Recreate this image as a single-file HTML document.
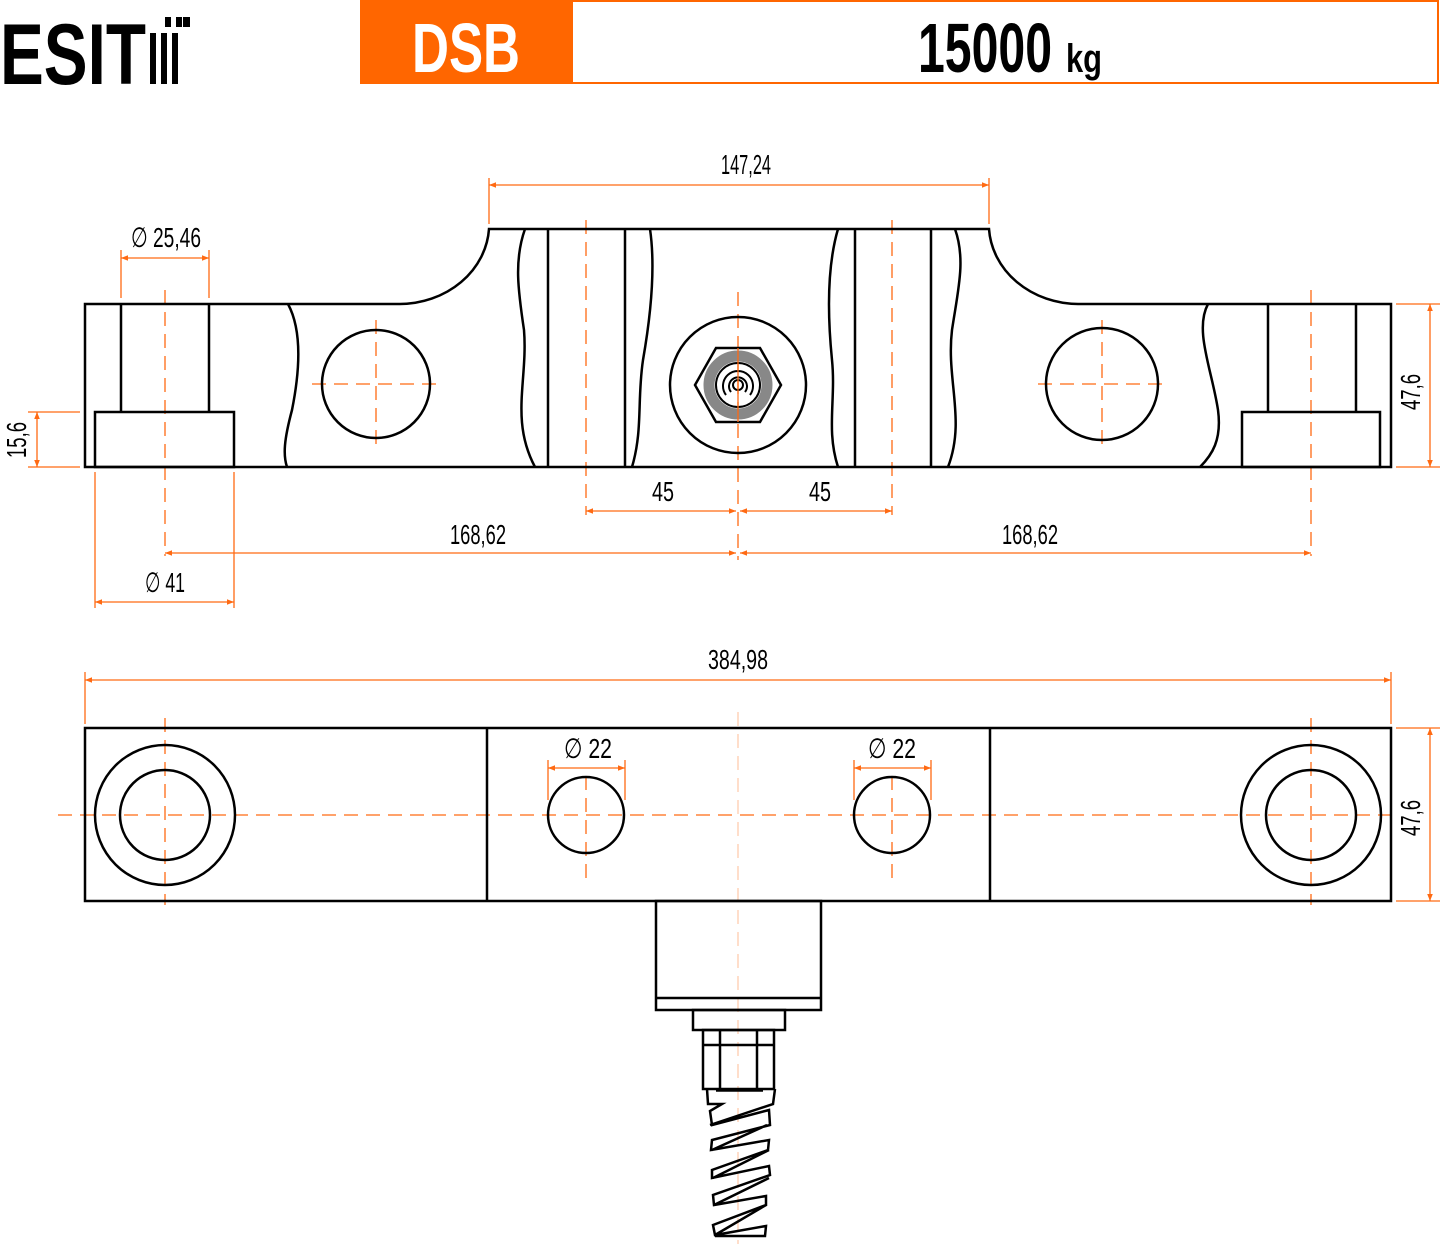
<!DOCTYPE html>
<html><head><meta charset="utf-8"><style>
html,body{margin:0;padding:0;background:#fff;}
svg{display:block}
text{font-family:"Liberation Sans Narrow","Liberation Sans",sans-serif;}
</style></head><body>
<svg width="1440" height="1244" viewBox="0 0 1440 1244" xmlns="http://www.w3.org/2000/svg">
<defs>
<marker id="a" viewBox="0 0 10 10" refX="10" refY="5" markerWidth="16" markerHeight="7" orient="auto-start-reverse" markerUnits="userSpaceOnUse"><path d="M0,1 L10,5 L0,9 z" fill="#ff6a13"/></marker>
</defs>
<!-- Header -->
<g fill="#000">
<text x="0" y="84" font-size="86" font-weight="bold" font-family="Liberation Sans" textLength="146" lengthAdjust="spacingAndGlyphs">ESIT</text>
<rect x="150" y="33" width="6" height="51"/><rect x="161" y="33" width="6" height="51"/><rect x="172" y="33" width="6" height="51"/>
<rect x="165" y="17" width="6" height="10"/><rect x="176" y="17" width="6" height="10"/><rect x="183" y="17" width="7" height="10"/>
</g>
<rect x="360" y="0" width="212" height="84" fill="#ff6600"/>
<text x="466" y="72" font-size="70" font-weight="bold" fill="#fff" text-anchor="middle" textLength="108" lengthAdjust="spacingAndGlyphs">DSB</text>
<rect x="572" y="1" width="866" height="82" fill="none" stroke="#ff6600" stroke-width="2"/>
<text x="918" y="72" font-size="70" font-weight="bold" textLength="134" lengthAdjust="spacingAndGlyphs">15000</text>
<text x="1066" y="72" font-size="40" font-weight="bold" textLength="36" lengthAdjust="spacingAndGlyphs">kg</text>

<!-- centre lines top view -->
<g stroke="#ff6a13" stroke-width="1.3" stroke-dasharray="14,8" fill="none">
<line x1="738" y1="292" x2="738" y2="560"/>
<line x1="586" y1="220" x2="586" y2="515"/>
<line x1="892" y1="220" x2="892" y2="515"/>
<line x1="165" y1="290" x2="165" y2="556"/>
<line x1="1311" y1="290" x2="1311" y2="556"/>
<line x1="312" y1="384" x2="440" y2="384"/><line x1="376" y1="320" x2="376" y2="448"/>
<line x1="1038" y1="384" x2="1166" y2="384"/><line x1="1102" y1="320" x2="1102" y2="448"/>
</g>
<!-- top view body -->
<g stroke="#000" stroke-width="2.5" fill="none">
<path d="M85,304 H400 A90,80 0 0 0 489,229 H989 A90,80 0 0 0 1078,304 H1391 V467 H85 Z"/>
<line x1="121" y1="304" x2="121" y2="412"/><line x1="209" y1="304" x2="209" y2="412"/>
<rect x="95" y="412" width="139" height="55"/>
<line x1="1268" y1="304" x2="1268" y2="412"/><line x1="1356" y1="304" x2="1356" y2="412"/>
<rect x="1242" y="412" width="138" height="55"/>
<circle cx="376" cy="384" r="54"/><circle cx="1102" cy="384" r="56"/>
<line x1="548" y1="229" x2="548" y2="467"/><line x1="625" y1="229" x2="625" y2="467"/>
<line x1="855" y1="229" x2="855" y2="467"/><line x1="931" y1="229" x2="931" y2="467"/>
<path d="M288,304 C302,330 300,370 292,410 C284,440 283,455 287,467"/>
<path d="M525,229 C514,260 518,290 524,330 C528,380 510,420 535,467"/>
<path d="M650,229 C656,270 650,320 643,360 C637,400 643,430 632,467"/>
<path d="M955,229 C966,260 958,290 952,330 C946,380 966,420 948,467"/>
<path d="M838,229 C826,270 828,320 832,360 C836,400 826,430 838,467"/>
<path d="M1208,304 C1194,330 1212,370 1218,410 C1222,440 1212,455 1200,467"/>
<circle cx="738" cy="385" r="68"/>
<polygon points="695,385 716,348 760,348 781,385 760,422 716,422"/>
</g>
<circle cx="738" cy="385" r="29" fill="none" stroke="#888" stroke-width="11"/>
<g stroke="#000" stroke-width="2" fill="none">
<circle cx="738" cy="385" r="22"/>
<path d="M726,395 A15,15 0 1 1 750,395"/>
<path d="M731,392 A9,9 0 1 1 745,392"/>
<circle cx="738" cy="385" r="5"/>
</g>
<line x1="738" y1="348" x2="738" y2="422" stroke="#ff6a13" stroke-width="1.3"/>

<!-- dimensions top -->
<g stroke="#ff6a13" stroke-width="1.3" fill="none">
<line x1="489" y1="178" x2="489" y2="224"/><line x1="989" y1="178" x2="989" y2="224"/>
<line x1="489" y1="185" x2="989" y2="185" marker-start="url(#a)" marker-end="url(#a)"/>
<line x1="121" y1="250" x2="121" y2="298"/><line x1="209" y1="250" x2="209" y2="298"/>
<line x1="121" y1="258" x2="209" y2="258" marker-start="url(#a)" marker-end="url(#a)"/>
<line x1="28" y1="412" x2="80" y2="412"/><line x1="28" y1="467" x2="80" y2="467"/>
<line x1="37" y1="412" x2="37" y2="467" marker-start="url(#a)" marker-end="url(#a)"/>
<line x1="1396" y1="304" x2="1440" y2="304"/><line x1="1396" y1="467" x2="1440" y2="467"/>
<line x1="1430" y1="304" x2="1430" y2="467" marker-start="url(#a)" marker-end="url(#a)"/>
<line x1="586" y1="511" x2="736" y2="511" marker-start="url(#a)" marker-end="url(#a)"/>
<line x1="740" y1="511" x2="892" y2="511" marker-start="url(#a)" marker-end="url(#a)"/>
<line x1="165" y1="553" x2="736" y2="553" marker-start="url(#a)" marker-end="url(#a)"/>
<line x1="740" y1="553" x2="1311" y2="553" marker-start="url(#a)" marker-end="url(#a)"/>
<line x1="95" y1="472" x2="95" y2="608"/><line x1="234" y1="472" x2="234" y2="608"/>
<line x1="95" y1="602" x2="234" y2="602" marker-start="url(#a)" marker-end="url(#a)"/>
</g>
<g font-size="28" fill="#000" text-anchor="middle" lengthAdjust="spacingAndGlyphs">
<text x="746" y="174" textLength="50" lengthAdjust="spacingAndGlyphs">147,24</text>
<text x="166" y="247" textLength="70" lengthAdjust="spacingAndGlyphs">∅ 25,46</text>
<text x="663" y="501" textLength="22" lengthAdjust="spacingAndGlyphs">45</text>
<text x="820" y="501" textLength="22" lengthAdjust="spacingAndGlyphs">45</text>
<text x="478" y="544" textLength="56" lengthAdjust="spacingAndGlyphs">168,62</text>
<text x="1030" y="544" textLength="56" lengthAdjust="spacingAndGlyphs">168,62</text>
<text x="165" y="592" textLength="40" lengthAdjust="spacingAndGlyphs">∅ 41</text>
<text x="738" y="669" textLength="60" lengthAdjust="spacingAndGlyphs">384,98</text>
<text x="588" y="758" textLength="48" lengthAdjust="spacingAndGlyphs">∅ 22</text>
<text x="892" y="758" textLength="48" lengthAdjust="spacingAndGlyphs">∅ 22</text>
<text transform="translate(26,440) rotate(-90)" textLength="36" lengthAdjust="spacingAndGlyphs">15,6</text>
<text transform="translate(1420,392) rotate(-90)" textLength="36" lengthAdjust="spacingAndGlyphs">47,6</text>
<text transform="translate(1420,818) rotate(-90)" textLength="36" lengthAdjust="spacingAndGlyphs">47,6</text>
</g>

<!-- bottom view -->
<g stroke="#ff6a13" stroke-width="1.3" fill="none">
<line x1="85" y1="680" x2="1391" y2="680" marker-start="url(#a)" marker-end="url(#a)"/>
<line x1="85" y1="672" x2="85" y2="724"/><line x1="1391" y1="672" x2="1391" y2="724"/>
<line x1="548" y1="760" x2="548" y2="800"/><line x1="625" y1="760" x2="625" y2="800"/>
<line x1="548" y1="768" x2="625" y2="768" marker-start="url(#a)" marker-end="url(#a)"/>
<line x1="854" y1="760" x2="854" y2="800"/><line x1="931" y1="760" x2="931" y2="800"/>
<line x1="854" y1="768" x2="931" y2="768" marker-start="url(#a)" marker-end="url(#a)"/>
<line x1="1396" y1="728" x2="1440" y2="728"/><line x1="1396" y1="901" x2="1440" y2="901"/>
<line x1="1430" y1="728" x2="1430" y2="901" marker-start="url(#a)" marker-end="url(#a)"/>
<g stroke-dasharray="14,8">
<line x1="58" y1="815" x2="1391" y2="815"/>
<line x1="165" y1="718" x2="165" y2="905"/><line x1="1311" y1="718" x2="1311" y2="905"/>
<line x1="586" y1="776" x2="586" y2="880"/><line x1="892" y1="776" x2="892" y2="880"/>
</g>
</g>
<line x1="738" y1="712" x2="738" y2="1244" stroke="#ffc9a8" stroke-width="1.2" stroke-dasharray="14,8"/>
<g stroke="#000" stroke-width="2.5" fill="none">
<rect x="85" y="728" width="1306" height="173"/>
<line x1="487" y1="728" x2="487" y2="901"/><line x1="990" y1="728" x2="990" y2="901"/>
<circle cx="165" cy="815" r="70"/><circle cx="165" cy="815" r="45"/>
<circle cx="1311" cy="815" r="70"/><circle cx="1311" cy="815" r="45"/>
<circle cx="586" cy="815" r="38"/><circle cx="892" cy="815" r="38"/>
<rect x="656" y="901" width="165" height="109"/><line x1="656" y1="998" x2="821" y2="998"/>
<rect x="693" y="1010" width="92" height="20"/>
<rect x="703" y="1030" width="71" height="59"/>
<line x1="720" y1="1030" x2="720" y2="1089"/><line x1="757" y1="1030" x2="757" y2="1089"/>
<line x1="703" y1="1045" x2="774" y2="1045"/>
<line x1="716" y1="1090" x2="763" y2="1090" stroke-width="3.5"/>
<path d="M707,1089 L708,1104 L722,1104 L710,1111 L712,1125 L769,1110 L770,1125 L712,1140 L711,1150 L769,1140 L768,1150 L712,1170 L712,1178 L769,1166 L770,1175 L713,1195 L714,1205 L766,1196 L766,1205 L713,1225 L715,1235 L766,1226 L765,1236 L715,1236 M775,1089 L773,1104 L710,1125 M767,1125 L712,1150 M769,1150 L713,1178 M769,1178 L714,1205 M766,1205 L715,1235"/>
</g>
</svg>
</body></html>
